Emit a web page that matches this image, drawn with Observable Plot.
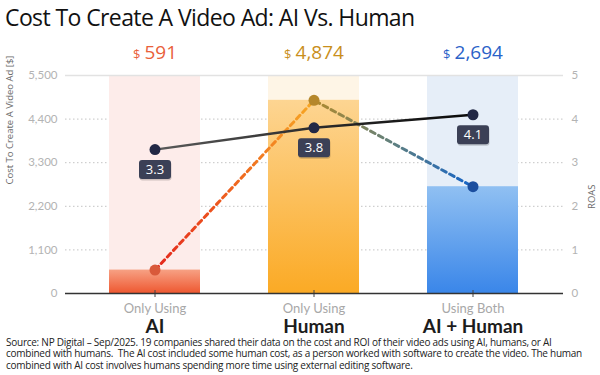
<!DOCTYPE html>
<html><head><meta charset="utf-8">
<script src="https://cdn.jsdelivr.net/npm/d3@7"></script>
<script src="https://cdn.jsdelivr.net/npm/@observablehq/plot@0.6"></script>
<style>
body{margin:0;background:#fff;}
#wrap{position:relative;width:600px;height:375px;overflow:hidden;font-family:"Open Sans",sans-serif;}
#chart{position:absolute;left:0;top:0;}
#title{position:absolute;left:5px;top:1px;font-size:23px;font-weight:500;color:#111;letter-spacing:-0.6px;white-space:nowrap;}
#caption{position:absolute;left:6px;top:337px;font-size:10px;line-height:11.3px;color:#222;letter-spacing:-0.25px;white-space:nowrap;}
</style></head><body>
<div id="wrap">
<div id="chart"></div>
<div id="title">Cost To Create A Video Ad: AI Vs. Human</div>
<div id="caption">Source: NP Digital – Sep/2025. 19 companies shared their data on the cost and ROI of their video ads using AI, humans, or AI<br>combined with humans.&nbsp; The AI cost included some human cost, as a person worked with software to create the video. The human<br>combined with AI cost involves humans spending more time using external editing software.</div>
</div>
<script>
const categories = ["AI", "Human", "AI + Human"];
const methodLabels = ["Only Using", "Only Using", "Using Both"];
const costs = [591, 4874, 2694];
const roas = [3.3, 3.8, 4.1];
const costTicks = [0, 1100, 2200, 3300, 4400, 5500];
const costMax = 5500;
const roasMax = 5;

const lightColors = ["#fdecea", "#fef5e6", "#e6eef8"];
const gradIds = ["gAI", "gHuman", "gBoth"];
const gradStops = [["#f7a184", "#ee5831"], ["#fdd592", "#fbaa25"], ["#90c0f2", "#3a86e9"]];
const valueColors = ["#e9603a", "#c98f1c", "#2a62c8"];
const dotColors = ["#d9593a", "#b5872b", "#1b4e9f"];

const k = costMax / roasMax;
const rows = categories.map((c, i) => ({
  cat: c, method: methodLabels[i], cost: costs[i], roas: roas[i], i
}));

const labelBox = {
  draw(ctx) {
    const w = 16, h = 9.5, r = 3;
    ctx.moveTo(-w + r, -h); ctx.lineTo(w - r, -h); ctx.arcTo(w, -h, w, -h + r, r);
    ctx.lineTo(w, h - r); ctx.arcTo(w, h, w - r, h, r);
    ctx.lineTo(-w + r, h); ctx.arcTo(-w, h, -w, h - r, r);
    ctx.lineTo(-w, -h + r); ctx.arcTo(-w, -h, -w + r, -h, r); ctx.closePath();
  }
};

function defs() {
  const d = d3.create("svg:defs");
  gradIds.forEach((id, i) => {
    const g = d.append("linearGradient").attr("id", id).attr("x1", 0).attr("y1", 0).attr("x2", 0).attr("y2", 1);
    g.append("stop").attr("offset", 0).attr("stop-color", gradStops[i][0]);
    g.append("stop").attr("offset", 1).attr("stop-color", gradStops[i][1]);
  });
  const dash = d.append("linearGradient").attr("id", "gDash").attr("x1", 0).attr("y1", 0).attr("x2", 1).attr("y2", 0);
  [[0, "#e3261d"], [0.22, "#ee5d1f"], [0.5, "#f7a823"], [0.5, "#b08a2c"], [0.75, "#5f8080"], [1, "#1463c8"]]
    .forEach(([o, c]) => dash.append("stop").attr("offset", o).attr("stop-color", c));
  const rl = d.append("linearGradient").attr("id", "gRoas").attr("x1", 0).attr("y1", 0).attr("x2", 1).attr("y2", 0);
  [[0, "#5a5a5a"], [0.5, "#2c2c2c"], [1, "#0a0a0a"]]
    .forEach(([o, c]) => rl.append("stop").attr("offset", o).attr("stop-color", c));
  return d.node();
}

const chart = Plot.plot({
  width: 600,
  height: 375,
  marginTop: 75,
  marginBottom: 82,
  marginLeft: 65,
  marginRight: 37,
  style: {fontFamily: "Lato, sans-serif", fontSize: "11px", background: "transparent"},
  x: {domain: categories, range: [65, 563], paddingInner: 0.425, paddingOuter: 0.27, axis: null},
  y: {domain: [0, costMax], axis: null},
  color: {type: "identity"},
  marks: [
    defs,
    Plot.gridY(costTicks.slice(1, -1), {stroke: "#c4c4c4", strokeOpacity: 1, strokeDasharray: "1.5,2.5"}),
    Plot.barY(rows, {x: "cat", y: () => costMax, fill: d => lightColors[d.i]}),
    Plot.barY(rows, {x: "cat", y: "cost", fill: d => `url(#${gradIds[d.i]})`}),
    Plot.ruleY([costMax], {stroke: "#e2e2e2", strokeWidth: 1.5}),
    Plot.axisX({tickSize: 7, dy: -3, tickFormat: () => "", stroke: "#444", label: null}),
    Plot.ruleY([0], {stroke: "#333", strokeWidth: 1.5}),
    Plot.axisY(costTicks, {anchor: "left", tickSize: 0, tickPadding: 8, tickFormat: d3.format(","), fill: "#b3b3b3", fontSize: 11.5, label: null}),
    Plot.axisY(costTicks, {anchor: "right", tickSize: 0, tickPadding: 8, tickFormat: d => d / k, fill: "#b3b3b3", fontSize: 11.5, label: null}),
    Plot.text(["Cost To Create A Video Ad [$]"], {text: d => d, frameAnchor: "left", rotate: -90, dx: -56, fontSize: 9.5, fill: "#6a6a6a", fontFamily: "Open Sans"}),
    Plot.text(["ROAS"], {text: d => d, frameAnchor: "right", rotate: -90, dx: 28, fontSize: 9.5, fill: "#6a6a6a", fontFamily: "Open Sans"}),
    Plot.line(rows, {x: "cat", y: "cost", stroke: "url(#gDash)", strokeWidth: 3, strokeDasharray: "5,4"}),
    Plot.line(rows, {x: "cat", y: d => d.roas * k, stroke: "url(#gRoas)", strokeWidth: 2.5}),
    Plot.dot(rows, {x: "cat", y: "cost", r: 5.5, fill: d => dotColors[d.i]}),
    Plot.dot(rows, {x: "cat", y: d => d.roas * k, r: 5.5, fill: "#222845"}),
    Plot.dot(rows, {x: "cat", y: d => d.roas * k, dy: 21.5, dx: 0.5, symbol: labelBox, fill: "#000", fillOpacity: 0.18}),
    Plot.dot(rows, {x: "cat", y: d => d.roas * k, dy: 20, symbol: labelBox, fill: "#3b4056"}),
    Plot.text(rows, {x: "cat", y: d => d.roas * k, dy: 20, text: d => d.roas.toFixed(1), fill: "#fff", fontSize: 13, fontFamily: "Open Sans"}),
    Plot.text(rows, {x: "cat", frameAnchor: "top", lineAnchor: "middle", dy: -23, text: d => "$ " + d3.format(",")(d.cost), fill: d => valueColors[d.i], fontSize: 19, fontFamily: "Open Sans", fontWeight: 500}),
    Plot.text(rows, {x: "cat", frameAnchor: "bottom", lineAnchor: "middle", dy: 15.5, text: "method", fill: "#a8a8a8", fontSize: 13, fontWeight: 400}),
    Plot.text(rows, {x: "cat", frameAnchor: "bottom", lineAnchor: "middle", dy: 33, text: "cat", fill: "#1c1c1c", fontSize: 19, fontWeight: 700})
  ]
});

chart.querySelectorAll("text").forEach(t => {
  const s = t.textContent;
  if (s.startsWith("$ ")) {
    t.textContent = "";
    const ns = "http://www.w3.org/2000/svg";
    const a = document.createElementNS(ns, "tspan");
    a.setAttribute("font-size", "13");
    a.textContent = "$";
    const b = document.createElementNS(ns, "tspan");
    b.setAttribute("dx", "4");
    b.textContent = s.slice(2);
    t.appendChild(a); t.appendChild(b);
  }
});

document.getElementById("chart").appendChild(chart);
</script>
</body></html>
